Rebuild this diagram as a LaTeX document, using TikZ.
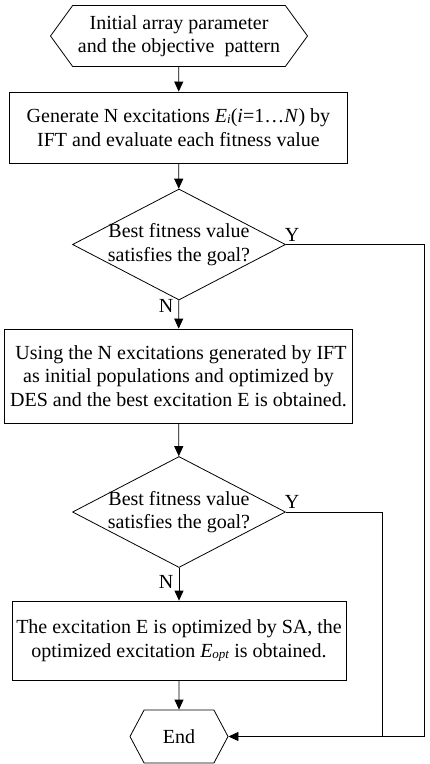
\documentclass[tikz,border=0pt]{standalone}
\usepackage{fontspec}
\setmainfont{Liberation Serif}
\usetikzlibrary{shapes.geometric, shapes.symbols, arrows.meta}
\tikzstyle{startstop} = [signal, signal to=east and west, draw, line width=0.8pt, font=\fontsize{20}{23.5}\selectfont, align=center, inner sep=0pt]
\tikzstyle{process} = [rectangle, draw, line width=0.8pt, font=\fontsize{20}{23.5}\selectfont, align=center, inner sep=0pt]
\tikzstyle{decision} = [diamond, draw, line width=0.8pt, aspect=2, inner xsep=-10pt, inner ysep=0pt, minimum width=213pt, minimum height=111pt, font=\fontsize{20}{23.5}\selectfont, align=center]
\tikzstyle{yn} = [font=\fontsize{20}{23.5}\selectfont, inner sep=0pt]
\tikzstyle{arrow} = [-{Triangle[length=10pt, width=9pt]}, line width=0.8pt]
\newcommand{\subit}[1]{\raisebox{-1pt}{\fontsize{13}{13}\selectfont\textit{#1}}}

\begin{document}
\begin{tikzpicture}[x=1pt, y=-1pt]
    \useasboundingbox (0,0) rectangle (430,764);
    % blocks
    \node[startstop, minimum width=257pt, minimum height=61pt, signal pointer angle=108] (init) at (179,36) {Initial array parameter\\and the objective~ pattern};
    \node[process, minimum width=338pt, minimum height=71pt] (gen) at (178.5,127.5) {Generate N excitations \textit{E}\subit{i}(\textit{i}=1…\textit{N}) by\\IFT and evaluate each fitness value};
    \node[decision] (dec1) at (179,244.5) {Best fitness value\\satisfies the goal?};
    \node[process, minimum width=348pt, minimum height=94pt] (des) at (178.5,376) {\ Using the N excitations generated by IFT\\as initial populations and optimized by\\DES and the best excitation E is obtained.};
    \node[decision] (dec2) at (179,512) {Best fitness value\\satisfies the goal?};
    \node[process, minimum width=334pt, minimum height=79pt] (sa) at (179,640.5) {The excitation E is optimized by SA, the\\optimized excitation \textit{E}\subit{opt} is obtained.};
    \node[startstop, minimum width=98pt, minimum height=53pt, signal pointer angle=124] (end) at (179,736.5) {End};

    % Y / N labels
    \node[yn] (y1) at (292,235) {Y};
    \node[yn] (n1) at (166,306) {N};
    \node[yn] (y2) at (292,502) {Y};
    \node[yn] (n2) at (166,582) {N};

    % loop-back lines
    \coordinate (outer) at (424,0);
    \coordinate (inner) at (382,0);

    % connectors
    \draw[arrow] (init) -- (gen);
    \draw[arrow] (gen) -- (dec1);
    \draw[arrow] (dec1) -- (des);
    \draw[arrow] (des) -- (dec2);
    \draw[arrow] (dec2) -- (sa);
    \draw[arrow] (sa) -- (end);
    \draw[arrow] (dec1.east) -- (dec1.east -| outer) |- (end.east);
    \draw[line width=0.8pt] (dec2.east) -| (inner |- end.east);
\end{tikzpicture}
\end{document}
